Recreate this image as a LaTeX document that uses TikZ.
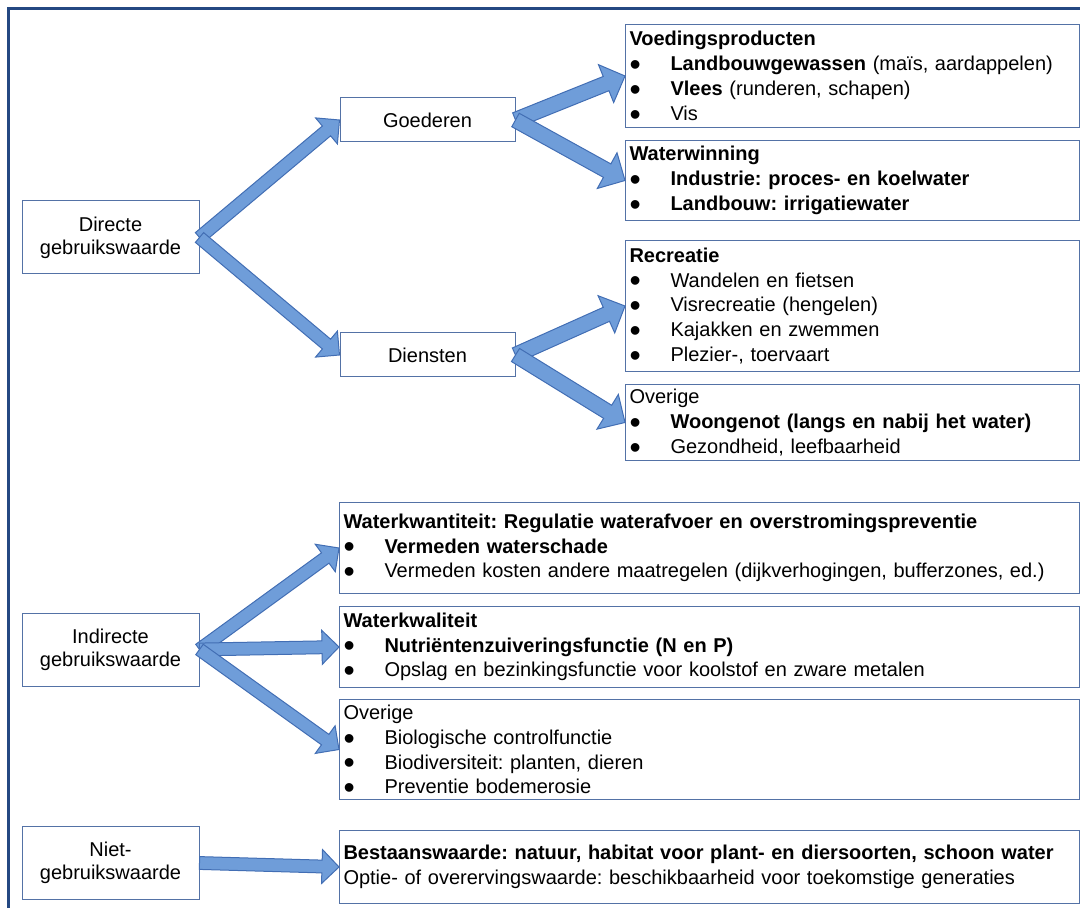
\documentclass[tikz,border=0pt]{standalone}
\usepackage{fontspec}
\setmainfont{Liberation Sans}
\usetikzlibrary{positioning,calc}
\frenchspacing

\definecolor{framenavy}{RGB}{36,72,130}
\definecolor{boxline}{RGB}{84,114,166}
\definecolor{arrowfill}{RGB}{111,157,217}
\definecolor{arrowline}{RGB}{66,110,180}

% bullet line inside a box
\newcommand\itm{\\\makebox[20.5pt][l]{\smash{\raisebox{-2.4pt}{\fontsize{16pt}{16pt}\selectfont\textbullet}}}}

% fat block arrow from #2 to #3, #1 = size factor
\newcommand\valuearrow[3][1]{%
  \pgfmathsetmacro\sh{3.2*#1}%
  \pgfmathsetmacro\hw{8.5*#1}%
  \pgfmathsetmacro\hl{8.5*#1}%
  \filldraw[fill=arrowfill,draw=arrowline,line width=0.5pt]
    ($(#2)!\sh pt!90:(#3)$) --
    ($($(#3)!\hl pt!(#2)$)!\sh pt!90:(#3)$) --
    ($($(#3)!\hl pt!(#2)$)!\hw pt!90:(#3)$) --
    (#3) --
    ($($(#3)!\hl pt!(#2)$)!\hw pt!-90:(#3)$) --
    ($($(#3)!\hl pt!(#2)$)!\sh pt!-90:(#3)$) --
    ($(#2)!\sh pt!-90:(#3)$) -- cycle;
}

\begin{document}
\begin{tikzpicture}[x=0.5pt,y=-0.5pt,
  box/.style={draw=boxline,line width=0.5pt,fill=white,inner xsep=2pt,inner ysep=0pt,
    font=\fontsize{10pt}{12.4pt}\selectfont},
  sourcebox/.style={box,align=center,minimum width=88.5pt,minimum height=36.5pt,
    font=\fontsize{10pt}{11.5pt}\selectfont},
  midbox/.style={box,align=center,minimum width=87.5pt,minimum height=22pt},
  rightbox/.style={box,align=left,text width=223pt},
  widebox/.style={box,align=left,text width=366pt}]
  \useasboundingbox (0,0) rectangle (1080,908);
  \draw[framenavy,line width=1.5pt] (1080,9) -- (8,9) -- (8,908);

  % left column
  \node[sourcebox] (directe)   at (110.5,237.5) {Directe\\gebruikswaarde};
  \node[sourcebox] (indirecte) at (110.5,649.5) {Indirecte\\gebruikswaarde};
  \node[sourcebox] (niet)      at (110.5,863)   {Niet-\\gebruikswaarde};

  \node[midbox] (goederen) at (427.5,120) {Goederen};
  \node[midbox] (diensten) at (427.5,355) {Diensten};

  % directe gebruikswaarde
  \node[rightbox,minimum height=51.5pt,anchor=north west] (voeding) at (625,24)
    {\textbf{Voedingsproducten}\itm \textbf{Landbouwgewassen} (maïs, aardappelen)%
     \itm \textbf{Vlees} (runderen, schapen)\itm Vis};
  \node[rightbox,minimum height=40pt,below=6pt of voeding] (winning)
    {\textbf{Waterwinning}\itm \textbf{Industrie: proces- en koelwater}%
     \itm \textbf{Landbouw: irrigatiewater}};
  \node[rightbox,minimum height=65.5pt,below=9.5pt of winning] (recreatie)
    {\textbf{Recreatie}\itm Wandelen en fietsen\itm Visrecreatie (hengelen)%
     \itm Kajakken en zwemmen\itm Plezier-, toervaart};
  \node[rightbox,minimum height=38pt,below=6pt of recreatie] (overigdienst)
    {Overige\itm \textbf{Woongenot (langs en nabij het water)}%
     \itm Gezondheid, leefbaarheid};

  % indirecte gebruikswaarde
  \node[widebox,minimum height=45.5pt,anchor=north west] (kwantiteit) at (339,502)
    {\textbf{Waterkwantiteit: Regulatie waterafvoer en overstromingspreventie}%
     \itm \textbf{Vermeden waterschade}%
     \itm Vermeden kosten andere maatregelen (dijkverhogingen, bufferzones, ed.)};
  \node[widebox,minimum height=40.5pt,below=6pt of kwantiteit] (kwaliteit)
    {\textbf{Waterkwaliteit}\itm \textbf{Nutriëntenzuiveringsfunctie (N en P)}%
     \itm Opslag en bezinkingsfunctie voor koolstof en zware metalen};
  \node[widebox,minimum height=50pt,below=5.5pt of kwaliteit] (overigindirect)
    {Overige\itm Biologische controlfunctie\itm Biodiversiteit: planten, dieren%
     \itm Preventie bodemerosie};

  % niet-gebruikswaarde
  \node[widebox,minimum height=36.5pt,below=15pt of overigindirect] (bestaan)
    {\textbf{Bestaanswaarde: natuur, habitat voor plant- en diersoorten, schoon water}\\
     Optie- of overervingswaarde: beschikbaarheid voor toekomstige generaties};

  \valuearrow{directe.east}{goederen.west}
  \valuearrow{directe.east}{diensten.west}
  \valuearrow[1.2]{goederen.east}{voeding.west}
  \valuearrow[1.2]{goederen.east}{winning.west}
  \valuearrow[1.2]{diensten.east}{recreatie.west}
  \valuearrow[1.2]{diensten.east}{overigdienst.west}
  \valuearrow{indirecte.east}{kwantiteit.west}
  \valuearrow{indirecte.east}{kwaliteit.west}
  \valuearrow{indirecte.east}{overigindirect.west}
  \valuearrow{niet.east}{bestaan.west}
\end{tikzpicture}
\end{document}
